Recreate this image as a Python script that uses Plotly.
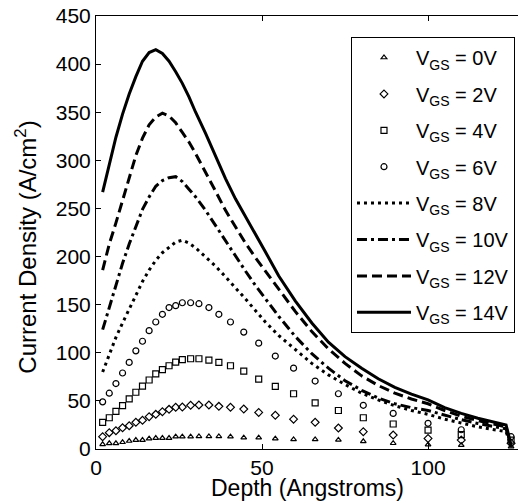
import plotly.graph_objects as go

# ---- data ----
marker_depth = [2, 4, 6, 8, 10, 12, 14, 16, 18, 20, 22, 24, 26, 28.5, 31, 34, 37, 40.5,
                44.5, 49, 54, 59.5, 66, 73, 80.5, 89.5, 100, 110, 125]
vgs0 = [4.9, 5.9, 5.9, 7, 8.3, 9.3, 9.3, 10.7, 11.4, 11.4, 11.4, 12.8, 12.8, 12.8, 13.1, 13.1,
        13.1, 12.8, 11.8, 11.8, 10.7, 10, 10, 9.5, 8, 6, 4.5, 4, 2.5]
vgs2 = [12.8, 17, 19, 22, 24.2, 27.7, 29.8, 33.6, 36, 38.8, 41.2, 43.3, 43.6, 45.4, 45.7, 45.7,
        44.3, 43.3, 41.5, 38, 35, 31, 27.7, 21.8, 18, 14.5, 11, 9.3, 6]
vgs4 = [27.7, 32.5, 39, 45, 52, 59, 65.4, 71.7, 78, 82.4, 86.5, 90.3, 92.8, 93.8, 93.8, 92.4,
        90, 86.5, 81, 72.7, 65, 57.4, 48, 40, 32.5, 26, 19.7, 15, 9.3]
vgs6 = [49, 58, 68, 79, 90, 102, 112, 123, 132, 140, 147, 149, 152, 152, 151, 147, 140, 132,
        121.5, 110, 96.6, 84, 70.6, 57.4, 45.4, 37, 26.7, 20, 12.8]

line_depth = [2, 4, 6, 8, 10, 12, 14, 16, 18, 20, 22, 24, 26, 28, 30, 33, 36, 39, 42, 45, 48,
              51, 55, 60, 65, 70, 75, 80, 85, 90, 95, 100, 105, 110, 115, 120, 123.5, 125]
vgs8 = [80, 98, 116, 131, 145, 160, 174, 186, 196, 204, 210, 215, 217, 214, 209, 200, 190, 179,
        168, 156, 144, 132, 118, 103, 89, 77, 67, 58, 51, 45, 40, 36, 31, 27, 23, 20, 18, 3]
vgs10 = [124, 147, 170, 193, 213, 232, 249, 262, 273, 279, 282, 283, 278, 270, 262, 248, 232,
         216, 200, 185, 170, 156, 138, 117, 99, 84, 71, 61, 53, 47, 43, 40, 35, 30.5, 26.5, 23.5, 21, 3]
vgs12 = [186, 213, 235, 259, 283, 305, 323, 337, 345, 349, 346, 339, 329, 319, 307, 288, 268,
         248, 231, 214, 199, 185, 166, 143, 122, 104, 89, 76, 66, 58, 52, 47, 40, 34, 29.5, 26, 23, 3]
vgs14 = [267, 296, 324, 348, 369, 387, 403, 412, 415, 411, 403, 392, 380, 366, 350, 328, 304,
         281, 260, 242, 224, 205, 180, 154, 131, 111, 96, 84, 73, 64, 57, 51, 43, 37, 32, 28, 25, 4]

x_ticks = [0, 50, 100]
y_ticks = [0, 50, 100, 150, 200, 250, 300, 350, 400, 450]

FONT = "Arial, Liberation Sans, sans-serif"

fig = go.Figure()

marker_series = [
    ("V<sub>GS</sub> = 0V", vgs0, "triangle-up-open", 5),
    ("V<sub>GS</sub> = 2V", vgs2, "diamond-open", 6),
    ("V<sub>GS</sub> = 4V", vgs4, "square-open", 6),
    ("V<sub>GS</sub> = 6V", vgs6, "circle-open", 6),
]
for name, ys, sym, sz in marker_series:
    fig.add_trace(go.Scatter(
        x=marker_depth, y=ys, mode="markers", name=name, legendgroup=name,
        marker=dict(symbol=sym, size=sz, color="black", line=dict(color="black", width=1.2)),
    ))

line_series = [
    ("V<sub>GS</sub> = 8V", vgs8, "3px,4px"),
    ("V<sub>GS</sub> = 10V", vgs10, "10px,4px,3px,4px"),
    ("V<sub>GS</sub> = 12V", vgs12, "10px,5px"),
    ("V<sub>GS</sub> = 14V", vgs14, "solid"),
]
for name, ys, dash in line_series:
    fig.add_trace(go.Scatter(
        x=line_depth, y=ys, mode="lines", name=name, legendgroup=name,
        line=dict(color="black", width=3, dash=dash),
    ))

# the page body has an 8px default margin; margins below compensate for it
fig.update_layout(
    width=526, height=504,
    margin=dict(l=88, r=8, t=8, b=63, autoexpand=False),
    paper_bgcolor="white", plot_bgcolor="white",
    font=dict(family=FONT, color="black", size=20),
    showlegend=True,
    legend=dict(
        x=0.593, y=0.9515, xanchor="left", yanchor="top",
        bgcolor="white", bordercolor="black", borderwidth=1,
        font=dict(family=FONT, size=20, color="black"),
        tracegroupgap=7.4, itemwidth=54,
    ),
    annotations=[
        dict(text="Depth (Angstroms)", xref="paper", yref="paper", x=0.493, y=-0.09,
             xanchor="center", yanchor="middle", showarrow=False, font=dict(size=23)),
        dict(text="Current Density (A/cm<sup>2</sup>)", xref="paper", yref="paper",
             x=-0.163, y=0.467, xanchor="center", yanchor="middle", showarrow=False,
             textangle=-90, font=dict(size=24)),
    ],
)
fig.update_xaxes(
    range=[0, 129.5], tickvals=x_ticks, ticks="inside", ticklen=5, tickcolor="black",
    showline=True, linecolor="black", linewidth=1, mirror="ticks", showgrid=False, zeroline=False,
    tickfont=dict(size=21), automargin=False, ticklabeloverflow="allow",
)
fig.update_yaxes(
    range=[0, 450], tickvals=y_ticks, ticks="inside", ticklen=5, tickcolor="black",
    showline=True, linecolor="black", linewidth=1, mirror="ticks", showgrid=False, zeroline=False,
    tickfont=dict(size=21), automargin=False, ticklabeloverflow="allow",
)

fig.write_html("out.html")
